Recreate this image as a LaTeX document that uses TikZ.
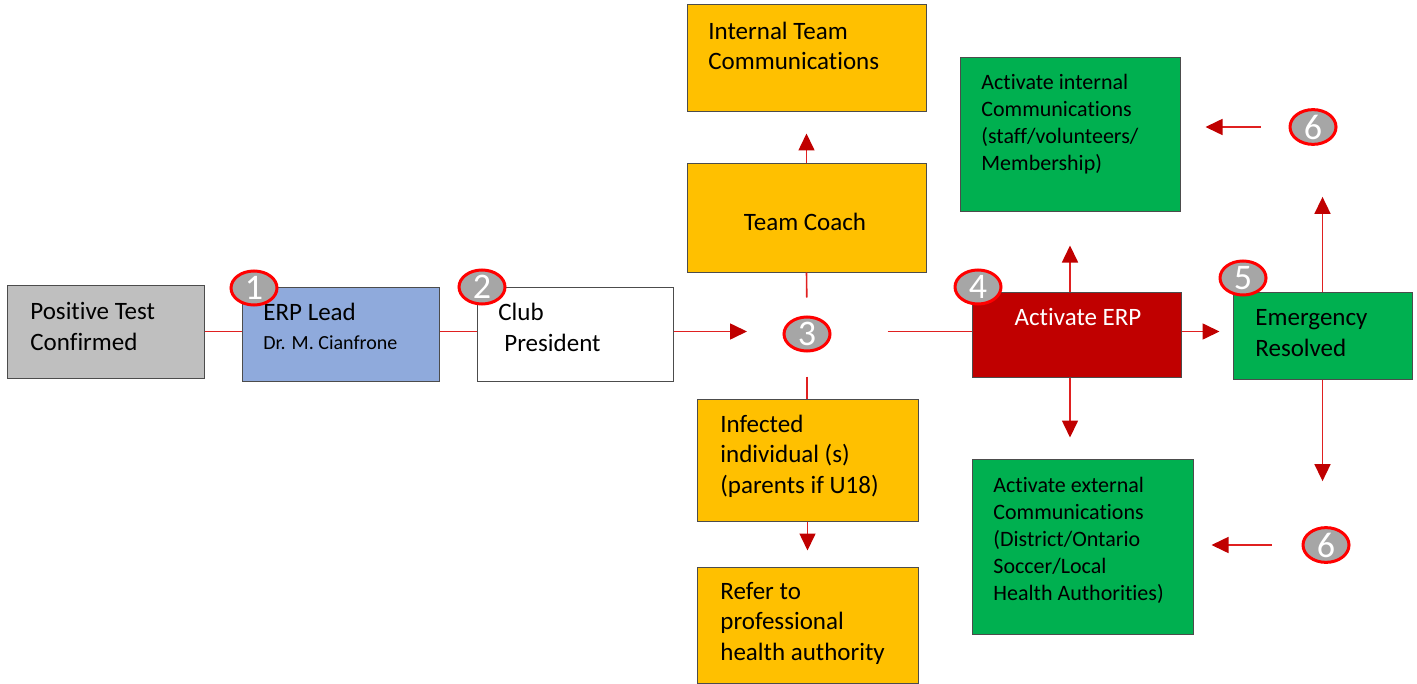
\documentclass[tikz,border=0pt]{standalone}
\usepackage{fontspec}
\setmainfont[Ligatures=NoCommon]{Carlito}
\usetikzlibrary{arrows.meta,fit,shapes.geometric}

\definecolor{boxgray}{HTML}{BFBFBF}
\definecolor{leadblue}{HTML}{8FAADC}
\definecolor{teamgold}{HTML}{FFC000}
\definecolor{erpred}{HTML}{C00000}
\definecolor{okgreen}{HTML}{00B050}
\definecolor{badgegray}{HTML}{A6A6A6}
\definecolor{linkred}{HTML}{E02020}

\tikzset{
  box/.style={draw=black!70, line width=0.5pt, inner sep=0pt},
  badge/.style={ellipse, draw=red, line width=1.5pt, fill=badgegray, minimum width=23pt,
    minimum height=17pt, inner sep=0pt, text=white, font=\fontsize{18}{18}\selectfont},
  txt/.style={anchor=base west, align=left, inner sep=0pt, font=\fontsize{12.5}{15.25}\selectfont},
  smalltxt/.style={txt, font=\fontsize{11}{13.5}\selectfont},
  link/.style={draw=linkred, line width=0.8pt},
  arr/.style={link, -{Triangle[length=8.5pt,width=8pt,color=erpred]}}
}

\begin{document}
\begin{tikzpicture}[x=0.5pt, y=-0.5pt]
    \useasboundingbox (0,0) rectangle (1417,684);
    % boxes
    \node[box, fill=boxgray, fit={(7,285) (204,378)}] (pos) {};
    \node[box, fill=leadblue, fit={(242,287) (439,381)}] (lead) {};
    \node[box, fill=white, fit={(477,287) (673,381)}] (club) {};
    \node[box, fill=teamgold, fit={(687,5) (926,112)}] (itc) {};
    \node[box, fill=teamgold, fit={(687,164) (926,272)}] (coach) {};
    \node[box, fill=teamgold, fit={(697,399) (918,521)}] (infected) {};
    \node[box, fill=teamgold, fit={(697,567) (918,683)}] (refer) {};
    \node[box, fill=erpred, fit={(972,292) (1181,377)}] (erp) {};
    \node[box, fill=okgreen, fit={(1233,292) (1412,379)}] (resolved) {};
    \node[box, fill=okgreen, fit={(960,58) (1180,212)}] (intcom) {};
    \node[box, fill=okgreen, fit={(972,459) (1193,634)}] (extcom) {};

    % texts (base = last line)
    \node[txt] (postxt) at (30,350) {Positive Test\\Confirmed};
    \node[txt] (leadtxt) at (263,320) {ERP Lead};
    \node[txt, font=\fontsize{10}{12}\selectfont] (leadname) at (263,349) {Dr. M. Cianfrone};
    \node[txt] (clubtxt) at (498,351) {Club\\\hspace{3pt}President};
    \node[txt] (itctxt) at (708,70) {Internal Team\\Communications};
    \node[txt, anchor=base] (coachtxt) at (805,230) {Team Coach};
    \node[txt] (infectedtxt) at (720,493) {Infected\\individual (s)\\(parents if U18)};
    \node[txt] (refertxt) at (720,660) {Refer to\\professional\\health authority};
    \node[txt, anchor=base, text=white] (erptxt) at (1078,325) {Activate ERP};
    \node[txt] (resolvedtxt) at (1255,356) {Emergency\\Resolved};
    \node[smalltxt] (intcomtxt) at (981,171) {Activate internal\\Communications\\(staff/volunteers/\\Membership)};
    \node[smalltxt] (extcomtxt) at (993,600) {Activate external\\Communications\\(District/Ontario\\Soccer/Local\\Health Authorities)};

    % step badges
    \node[badge] (b1) at (254,288) {1};
    \node[badge] (b2) at (482,287) {2};
    \node[badge] (b3) at (807,334) {3};
    \node[badge] (b4) at (978,287) {4};
    \node[badge] (b5) at (1243,278) {5};
    \node[badge] (b6a) at (1313,127) {6};
    \node[badge] (b6b) at (1326,545) {6};

    % connectors
    \draw[link] (pos.east) -- (pos.east -| lead.west);
    \draw[link] (lead.east |- pos) -- (club.west |- pos);
    \draw[arr, shorten >=17.75pt] (club.east |- pos) -- (b3.west |- pos);
    \draw[link, shorten <=28pt] (b3.east |- pos) -- (erp.west |- pos);
    \draw[link, shorten >=9pt] (coach.south) -- (b3.north);
    \draw[link, shorten <=12pt] (b3.south) -- (b3.south |- infected.north);
    \draw[arr, shorten >=10.5pt] (coach.north) -- (itc.south);
    \draw[arr, shorten >=8pt] (infected.south) -- (refer.north);
    \draw[arr, shorten >=6.5pt] (erp.east |- pos) -- (resolved.west |- pos);
    \draw[arr, shorten >=16.5pt] (erp.north -| intcom.south) -- (intcom.south);
    \draw[arr, shorten >=10.5pt] (erp.south -| intcom.south) -- (intcom.south |- extcom.north);
    \draw[arr, shorten >=25.5pt] (resolved.north) -- (resolved.north |- b6a.south);
    \draw[arr, shorten >=22.5pt] (resolved.south) -- (resolved.south |- b6b.north);
    \draw[arr, shorten <=14pt, shorten >=12.5pt] (b6a.west) -- (b6a.west -| intcom.east);
    \draw[arr, shorten <=15pt, shorten >=9pt] (b6b.west) -- (b6b.west -| extcom.east);
\end{tikzpicture}
\end{document}
